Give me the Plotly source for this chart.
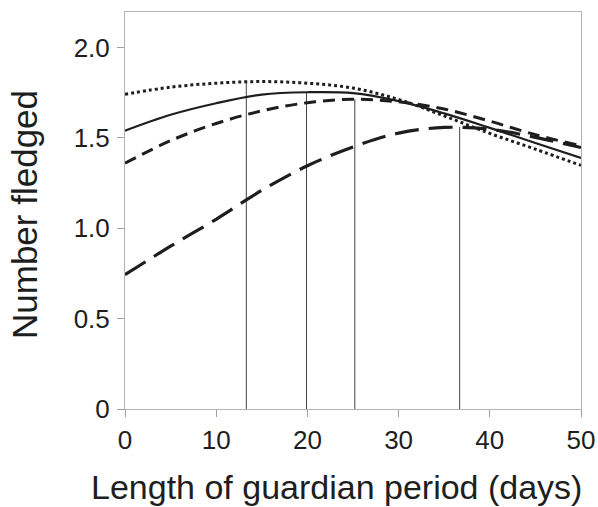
import plotly.graph_objects as go

days = [0, 5, 10, 15, 20, 25, 30, 35, 40, 45, 50]
solid_vals = [1.540, 1.628, 1.692, 1.740, 1.753, 1.748, 1.704, 1.636, 1.556, 1.472, 1.389]
dotted_vals = [1.742, 1.781, 1.803, 1.812, 1.803, 1.776, 1.713, 1.622, 1.525, 1.438, 1.348]
shortdash_vals = [1.360, 1.485, 1.580, 1.650, 1.695, 1.714, 1.700, 1.660, 1.593, 1.518, 1.456]
longdash_vals = [0.743, 0.901, 1.050, 1.210, 1.346, 1.450, 1.527, 1.558, 1.548, 1.503, 1.447]

peak_days = [13.3, 19.9, 25.2, 36.7]
peak_vals = [1.816, 1.754, 1.715, 1.562]

x_ticks = [0, 10, 20, 30, 40, 50]
y_ticks = [0, 0.5, 1.0, 1.5, 2.0]
y_ticktext = ["0", "0.5", "1.0", "1.5", "2.0"]

FONT = "Liberation Sans, Arial, sans-serif"
INK = "#1e1e1e"

fig = go.Figure()

# vertical lines at optimum
for px, pv in zip(peak_days, peak_vals):
    fig.add_trace(go.Scatter(x=[px, px], y=[0, pv], mode="lines",
                             line=dict(color="#444444", width=1),
                             hoverinfo="skip", showlegend=False))

series = [
    (dotted_vals, "3px,3px", 3),
    (solid_vals, "solid", 2.2),
    (shortdash_vals, "12px,7px", 3),
    (longdash_vals, "24px,10px", 3.2),
]
for vals, dash, w in series:
    fig.add_trace(go.Scatter(x=days, y=vals, mode="lines",
                             line=dict(color=INK, width=w, dash=dash, shape="spline", smoothing=1.0),
                             showlegend=False))

axis_common = dict(
    showline=True, linecolor="#b4b4b4", linewidth=1, mirror=True,
    ticks="outside", ticklen=7, tickcolor="#a0a0a0", tickwidth=1,
    showgrid=False, zeroline=False, automargin=False,
    tickfont=dict(family=FONT, size=26, color=INK),
)

fig.update_xaxes(range=[0, 50], tickvals=x_ticks, ticklabelstandoff=1, **axis_common)
fig.update_yaxes(range=[0, 2.197], tickvals=y_ticks, ticktext=y_ticktext,
                 ticklabelstandoff=2, **axis_common)

fig.add_annotation(text="Length of guardian period (days)", xref="paper", yref="paper",
                   x=0.464, y=-0.196, xanchor="center", yanchor="middle", showarrow=False,
                   font=dict(family=FONT, size=34, color=INK))
fig.add_annotation(text="Number fledged", xref="paper", yref="paper",
                   x=-0.219, y=0.489, xanchor="center", yanchor="middle", showarrow=False,
                   textangle=-90, font=dict(family=FONT, size=35, color=INK))

fig.update_layout(
    width=598, height=507,
    margin=dict(l=125, r=17, t=12, b=98),
    paper_bgcolor="white", plot_bgcolor="white",
    showlegend=False,
)

fig.write_html("out.html", config={"displayModeBar": False},
               post_script="document.body.style.margin='0';")
